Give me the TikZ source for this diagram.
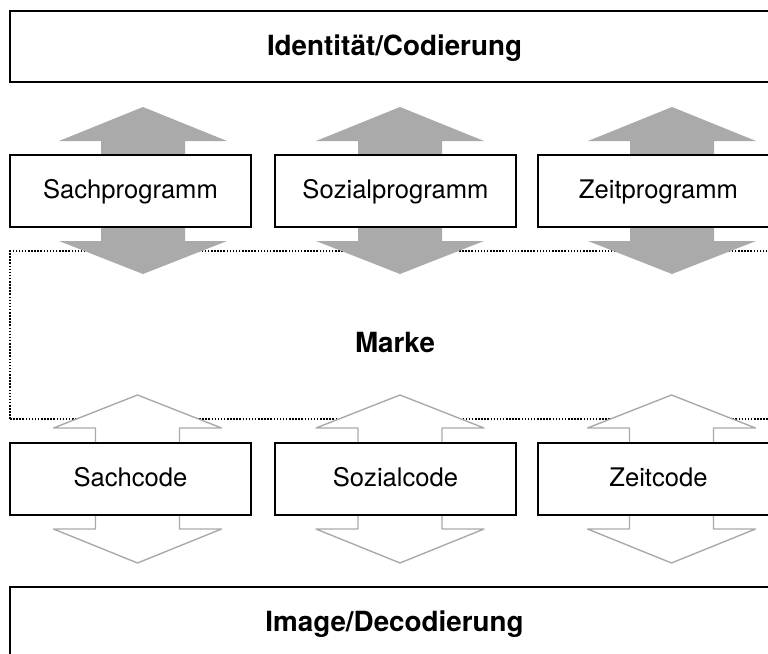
\documentclass[tikz,border=0pt]{standalone}
\usepackage{fontspec}
\setmainfont{TeX Gyre Heros}
\definecolor{arrgray}{RGB}{170,170,170}
\begin{document}
\begin{tikzpicture}[x=1pt,y=-1pt,
  box/.style={draw=black, line width=1.8pt, fill=white, minimum width=241pt,
    minimum height=72pt, inner sep=0pt, font=\fontsize{25.6}{30}\selectfont,
    text height=18.4pt, text depth=3.8pt},
  widebox/.style={box, minimum width=769pt, minimum height=71pt,
    font=\fontsize{27.8}{32}\selectfont\bfseries, text height=20pt, text depth=3pt},
  markebox/.style={draw=black, line width=1.6pt, dash pattern=on 1.5pt off 1.6pt,
    minimum width=769pt, minimum height=168pt, inner sep=0pt},
  boldlabel/.style={font=\fontsize{27.8}{32}\selectfont\bfseries, inner sep=0pt, anchor=base},
  solidarrow/.style={fill=arrgray, draw=none},
  hollowarrow/.style={fill=white, draw=arrgray, line width=1.4pt, line join=round},
]
\useasboundingbox (0,0) rectangle (768,653);
\clip (0,0) rectangle (768,653);

% Marke region (dotted)
\node[markebox] (markerect) at (394.5,335) {};
\node[boldlabel] (marke) at (395,352) {Marke};

% solid grey double arrows
\foreach \c in {143,400,672} {
  \fill[solidarrow] (\c,107) -- (\c+84,141) -- (\c+42,141) -- (\c+42,241) -- (\c+84,241)
    -- (\c,274) -- (\c-84,241) -- (\c-42,241) -- (\c-42,141) -- (\c-84,141) -- cycle;
}

% hollow double arrows
\foreach \c in {137.5,400,671.5} {
  \draw[hollowarrow] (\c,395) -- (\c+84,428) -- (\c+42,428) -- (\c+42,529) -- (\c+84,529)
    -- (\c,563) -- (\c-84,529) -- (\c-42,529) -- (\c-42,428) -- (\c-84,428) -- cycle;
}

% boxes
\node[widebox] (ident) at (394.5,46.5) {Identität/Codierung};
\node[box] (sachp) at (130.5,191) {Sachprogramm};
\node[box] (sozp) at (395.5,191) {Sozialprogramm};
\node[box] (zeitp) at (658.5,191) {Zeitprogramm};
\node[box] (sachc) at (130.5,479) {Sachcode};
\node[box] (sozc) at (395.5,479) {Sozialcode};
\node[box] (zeitc) at (658.5,479) {Zeitcode};
\node[widebox] (image) at (394.5,622.5) {Image/Decodierung};
\end{tikzpicture}
\end{document}
